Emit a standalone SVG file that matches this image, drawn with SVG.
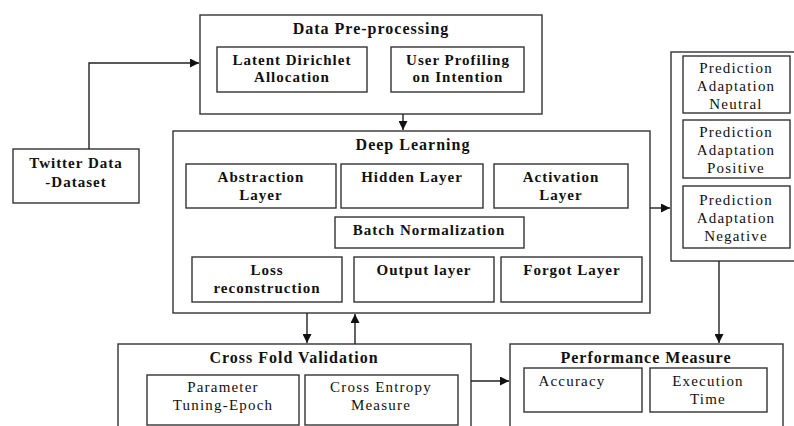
<svg xmlns="http://www.w3.org/2000/svg" width="794" height="426" viewBox="0 0 794 426">
<style>
rect{fill:#fff;stroke:#333;stroke-width:1.4}
text{font-family:"Liberation Serif","Times New Roman",serif;fill:#111;text-anchor:middle}
.t{font-size:16px;font-weight:bold;letter-spacing:1px}
.b{font-size:15px;font-weight:bold;letter-spacing:1px}
.r{font-size:15px;letter-spacing:1.2px}
.c path{fill:none;stroke:#222;stroke-width:1.4}
</style>
<defs>
<marker id="ah" viewBox="0 0 10 10" refX="10" refY="5" markerWidth="9" markerHeight="9" markerUnits="userSpaceOnUse" orient="auto">
<path d="M0,0 L10,5 L0,10 z" fill="#111"/>
</marker>
</defs>
<rect x="-10" y="-10" width="820" height="450" style="stroke:none"/>

<g id="preproc">
<rect x="200" y="15" width="342" height="99"/>
<text class="t" x="371" y="34">Data Pre-processing</text>
</g>
<g id="lda">
<rect x="217" y="47" width="150" height="45"/>
<text class="b" x="292" y="65">Latent Dirichlet</text>
<text class="b" x="292" y="82">Allocation</text>
</g>
<g id="profiling">
<rect x="391" y="47" width="133" height="45"/>
<text class="b" x="458" y="65">User Profiling</text>
<text class="b" x="458" y="82">on Intention</text>
</g>

<g id="twitter">
<rect x="13" y="149" width="126" height="54"/>
<text class="b" x="76" y="168">Twitter Data</text>
<text class="b" x="76" y="187">-Dataset</text>
</g>

<g id="deeplearning">
<rect x="173" y="131" width="477" height="182"/>
<text class="t" x="413" y="150">Deep Learning</text>
</g>
<g id="abstraction">
<rect x="186" y="164" width="150" height="44"/>
<text class="b" x="261" y="182">Abstraction</text>
<text class="b" x="261" y="200">Layer</text>
</g>
<g id="hidden">
<rect x="341" y="164" width="142" height="44"/>
<text class="b" x="412" y="182">Hidden Layer</text>
</g>
<g id="activation">
<rect x="494" y="164" width="134" height="44"/>
<text class="b" x="561" y="182">Activation</text>
<text class="b" x="561" y="200">Layer</text>
</g>
<g id="batchnorm">
<rect x="335" y="217" width="189" height="31"/>
<text class="b" x="429" y="235">Batch Normalization</text>
</g>
<g id="loss">
<rect x="192" y="257" width="150" height="45"/>
<text class="b" x="267" y="275">Loss</text>
<text class="b" x="267" y="293">reconstruction</text>
</g>
<g id="output">
<rect x="354" y="257" width="140" height="45"/>
<text class="b" x="424" y="275">Output layer</text>
</g>
<g id="forgot">
<rect x="501" y="257" width="141" height="45"/>
<text class="b" x="572" y="275">Forgot Layer</text>
</g>

<g id="prediction">
<rect x="671" y="52" width="130" height="209"/>
</g>
<g id="neutral">
<rect x="683" y="56" width="107" height="57"/>
<text class="r" x="736" y="73">Prediction</text>
<text class="r" x="736" y="91">Adaptation</text>
<text class="r" x="736" y="109">Neutral</text>
</g>
<g id="positive">
<rect x="683" y="120" width="107" height="58"/>
<text class="r" x="736" y="137">Prediction</text>
<text class="r" x="736" y="155">Adaptation</text>
<text class="r" x="736" y="173">Positive</text>
</g>
<g id="negative">
<rect x="683" y="186" width="107" height="62"/>
<text class="r" x="736" y="205">Prediction</text>
<text class="r" x="736" y="223">Adaptation</text>
<text class="r" x="736" y="241">Negative</text>
</g>

<g id="crossfold">
<rect x="118" y="344" width="353" height="90"/>
<text class="t" x="294" y="363">Cross Fold Validation</text>
</g>
<g id="param">
<rect x="147" y="375" width="152" height="50"/>
<text class="r" x="223" y="392">Parameter</text>
<text class="r" x="223" y="410">Tuning-Epoch</text>
</g>
<g id="entropy">
<rect x="305" y="375" width="153" height="50"/>
<text class="r" x="381" y="392">Cross Entropy</text>
<text class="r" x="381" y="410">Measure</text>
</g>

<g id="performance">
<rect x="510" y="344" width="273" height="90"/>
<text class="t" x="646" y="363">Performance Measure</text>
</g>
<g id="accuracy">
<rect x="524" y="368" width="118" height="44"/>
<text class="r" x="572" y="386">Accuracy</text>
</g>
<g id="exectime">
<rect x="650" y="368" width="117" height="44"/>
<text class="r" x="708" y="386">Execution</text>
<text class="r" x="708" y="404">Time</text>
</g>

<g class="c" id="connectors">
<path d="M89,149 V63 H199" marker-end="url(#ah)"/>
<path d="M403,114 V130" marker-end="url(#ah)"/>
<path d="M650,208 H670" marker-end="url(#ah)"/>
<path d="M307,313 V343" marker-end="url(#ah)"/>
<path d="M355,344 V314" marker-end="url(#ah)"/>
<path d="M719,261 V343" marker-end="url(#ah)"/>
<path d="M471,381 H509" marker-end="url(#ah)"/>
</g>
</svg>
